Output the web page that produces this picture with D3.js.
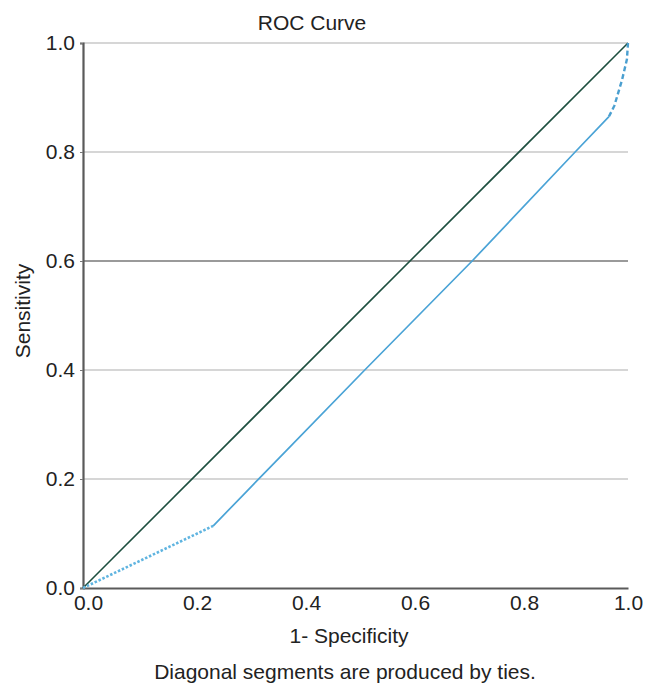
<!DOCTYPE html>
<html>
<head>
<meta charset="utf-8">
<script src="https://cdn.jsdelivr.net/npm/d3@7"></script>
<style>
  body { margin: 0; background: #fff; }
  text { font-family: "Liberation Sans", Arial, sans-serif; fill: #222; }
</style>
</head>
<body>
<div class="res"></div>
<script>
// ROC curve values
const tiesFpr = [0, 0.239];
const tiesTpr = [0, 0.114];
const curveFpr = [0.239, 0.30, 0.374, 0.517, 0.714, 0.903, 0.965];
const curveTpr = [0.114, 0.177, 0.253, 0.40, 0.60, 0.80, 0.865];
const tailFpr = [0.965, 0.975, 0.989, 0.998, 1];
const tailTpr = [0.865, 0.885, 0.932, 0.97, 1];
const refLine = [0, 1];
const tickValues = [0, 0.2, 0.4, 0.6, 0.8, 1.0];

// layout
const margin = { top: 43, right: 27, bottom: 97, left: 83 };
const W = 655, H = 685;
const width = W - margin.left - margin.right;
const height = H - margin.top - margin.bottom;
const fontSize = '21px';

const svg = d3.select('div.res')
    .append('svg')
    .attr('width', W)
    .attr('height', H);

const g = svg.append('g')
    .attr('transform', `translate(${margin.left}, ${margin.top})`);

const xScale = d3.scaleLinear().domain([0, 1]).range([0, width]);
const yScale = d3.scaleLinear().domain([0, 1]).range([height, 0]);

// gridlines (0.6 line is darker in the original)
g.selectAll('line.grid')
    .data(tickValues.filter(d => d > 0))
    .enter().append('line')
    .attr('class', 'grid')
    .attr('x1', 0)
    .attr('x2', width)
    .attr('y1', d => yScale(d))
    .attr('y2', d => yScale(d))
    .style('stroke', d => Math.abs(d - 0.6) < 1e-9 ? '#9a9a9a' : '#d6d6d6')
    .style('stroke-width', 2);

// axes
const xAxis = d3.axisBottom(xScale).tickValues(tickValues).tickFormat(d3.format('.1f')).tickSize(0).tickPadding(7);
const yAxis = d3.axisLeft(yScale).tickValues(tickValues).tickFormat(d3.format('.1f')).tickSize(3).tickPadding(5);

const gx = g.append('g')
    .attr('transform', `translate(0, ${height})`)
    .call(xAxis);
const gy = g.append('g').call(yAxis);

[gx, gy].forEach(ax => {
    ax.select('.domain').style('stroke', '#5a5a5a').style('stroke-width', 2.2);
    ax.selectAll('.tick line').style('stroke', '#777');
    ax.selectAll('text').style('font-size', fontSize).style('fill', '#222')
        .style('font-family', '"Liberation Sans", Arial, sans-serif');
});
gx.selectAll('.tick text').attr('dy', '0.72em').attr('dx', 5);
gx.selectAll('.tick:last-of-type text').attr('dx', 0);

// reference diagonal
const line = d3.line().x(d => xScale(d[0])).y(d => yScale(d[1]));

g.append('path')
    .datum(refLine.map(v => [v, v]))
    .attr('d', line)
    .style('fill', 'none')
    .style('stroke', '#1d4f3f')
    .style('stroke-width', 1.6);

// ROC curve: dotted tie segment, solid main run, dashed tail
g.append('path')
    .datum(tiesFpr.map((v, i) => [v, tiesTpr[i]]))
    .attr('d', line)
    .style('fill', 'none')
    .style('stroke', '#5fb4e0')
    .style('stroke-width', 2.6)
    .style('stroke-dasharray', '2.5,1.8');

g.append('path')
    .datum(curveFpr.map((v, i) => [v, curveTpr[i]]))
    .attr('d', line)
    .style('fill', 'none')
    .style('stroke', '#4aa3d6')
    .style('stroke-width', 1.7);

g.append('path')
    .datum(tailFpr.map((v, i) => [v, tailTpr[i]]))
    .attr('d', line)
    .style('fill', 'none')
    .style('stroke', '#4a9fd0')
    .style('stroke-width', 2.4)
    .style('stroke-dasharray', '5,3');

// labels
svg.append('text')
    .attr('x', 312)
    .attr('y', 30)
    .attr('text-anchor', 'middle')
    .style('font-size', fontSize)
    .text('ROC Curve');

svg.append('text')
    .attr('x', 349)
    .attr('y', 643)
    .attr('text-anchor', 'middle')
    .style('font-size', fontSize)
    .text('1- Specificity');

svg.append('text')
    .attr('transform', `translate(30, 311) rotate(-90)`)
    .attr('text-anchor', 'middle')
    .style('font-size', fontSize)
    .text('Sensitivity');

svg.append('text')
    .attr('x', 345)
    .attr('y', 679)
    .attr('text-anchor', 'middle')
    .style('font-size', fontSize)
    .text('Diagonal segments are produced by ties.');
</script>
</body>
</html>
